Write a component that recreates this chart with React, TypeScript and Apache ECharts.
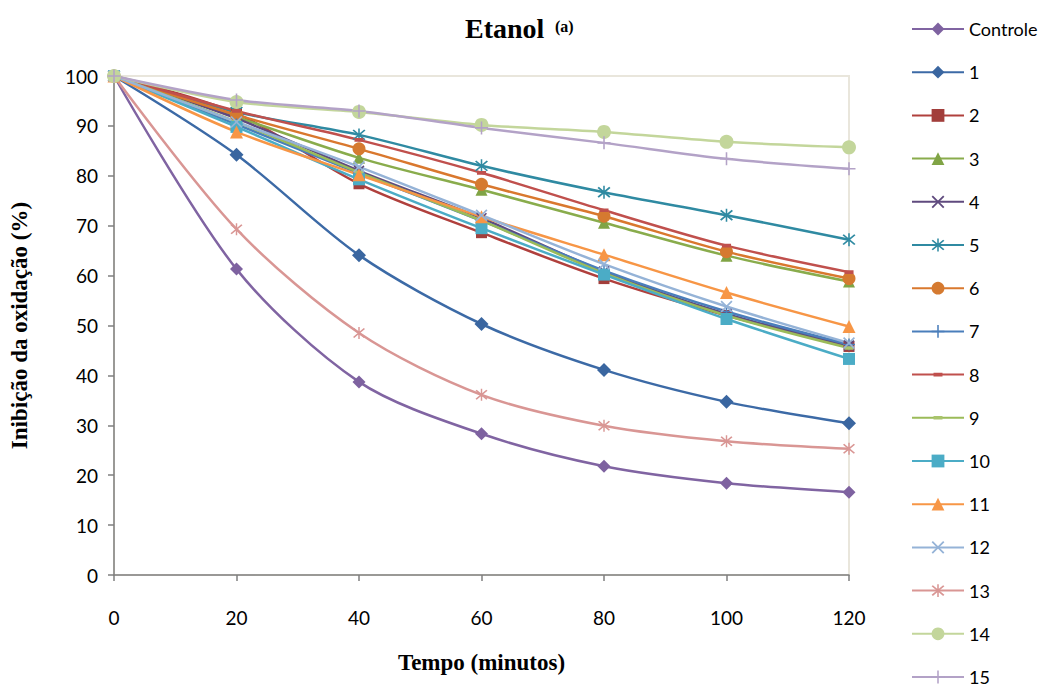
import React, { useEffect, useRef } from "react";
import * as echarts from "echarts";

const time = [0, 20, 40, 60, 80, 100, 120];
const seriesNames = ["Controle", "1", "2", "3", "4", "5", "6", "7", "8", "9", "10", "11", "12", "13", "14", "15"];
const controle = [100, 61.3, 38.7, 28.3, 21.8, 18.4, 16.6];
const s1 = [100, 84.2, 64.1, 50.3, 41.1, 34.7, 30.4];
const s2 = [100, 92.5, 78.4, 68.6, 59.4, 52.0, 45.8];
const s3 = [100, 91.8, 83.6, 77.2, 70.6, 64.0, 58.8];
const s4 = [100, 91.5, 81.0, 71.5, 60.8, 52.3, 46.0];
const s5 = [100, 92.8, 88.2, 82.0, 76.7, 72.1, 67.2];
const s6 = [100, 92.2, 85.4, 78.3, 71.9, 64.8, 59.4];
const s7 = [100, 90.3, 80.5, 71.0, 61.0, 52.8, 46.2];
const s8 = [100, 93.0, 87.2, 80.6, 73.1, 66.0, 60.7];
const s9 = [100, 90.8, 80.7, 71.0, 60.5, 52.0, 45.5];
const s10 = [100, 89.8, 79.3, 69.5, 60.2, 51.3, 43.3];
const s11 = [100, 88.8, 80.2, 71.8, 64.2, 56.6, 49.8];
const s12 = [100, 90.8, 81.8, 72.1, 62.3, 53.8, 46.5];
const s13 = [100, 69.3, 48.5, 36.1, 29.9, 26.8, 25.3];
const s14 = [100, 94.8, 92.8, 90.2, 88.8, 86.8, 85.7];
const s15 = [100, 95.2, 93.0, 89.6, 86.6, 83.4, 81.4];
const allValues = [controle, s1, s2, s3, s4, s5, s6, s7, s8, s9, s10, s11, s12, s13, s14, s15];

const X_PATH = "path://M0,1 L1,0 L10,9 L9,10 Z M9,0 L10,1 L1,10 L0,9 Z";
const STAR_PATH = "path://M0,1 L1,0 L10,9 L9,10 Z M9,0 L10,1 L1,10 L0,9 Z M4.4,-1 L5.6,-1 L5.6,11 L4.4,11 Z";
const PLUS_PATH = "path://M4.4,0 L5.6,0 L5.6,10 L4.4,10 Z M0,4.4 L10,4.4 L10,5.6 L0,5.6 Z";
// small dash centred in a 10x10 box (tiny corner points only pad the box)
const DASH_PATH = "path://M0,0 L0.01,0 L0,0.01 Z M10,10 L9.99,10 L10,9.99 Z M1.5,3.6 L8.5,3.6 L8.5,6.4 L1.5,6.4 Z";

const styles: { color: string; marker: string; symbol: any; size: any }[] = [
  { color: "#8064A2", marker: "#7E62A0", symbol: "diamond", size: 13 },
  { color: "#3C6AA6", marker: "#3A66A0", symbol: "diamond", size: 14 },
  { color: "#B0403D", marker: "#A23E3B", symbol: "rect", size: 11 },
  { color: "#89AC4C", marker: "#80A445", symbol: "triangle", size: 12 },
  { color: "#5F4A7E", marker: "#5F4A7E", symbol: X_PATH, size: 11 },
  { color: "#2F8AA2", marker: "#2F8AA2", symbol: STAR_PATH, size: 13 },
  { color: "#D9782E", marker: "#D57A30", symbol: "circle", size: 13 },
  { color: "#4A7EBB", marker: "#4A7EBB", symbol: PLUS_PATH, size: 12 },
  { color: "#C0504D", marker: "#C0504D", symbol: DASH_PATH, size: 13 },
  { color: "#9BBB59", marker: "#A9C46C", symbol: DASH_PATH, size: 13 },
  { color: "#4BACC6", marker: "#4BACC6", symbol: "rect", size: 12 },
  { color: "#F79646", marker: "#F79646", symbol: "triangle", size: 13 },
  { color: "#95B3D7", marker: "#95B3D7", symbol: X_PATH, size: 12 },
  { color: "#D99694", marker: "#D99694", symbol: STAR_PATH, size: 12 },
  { color: "#C3D69B", marker: "#C3D69B", symbol: "circle", size: 14 },
  { color: "#B3A2C7", marker: "#B3A2C7", symbol: PLUS_PATH, size: 13 },
];

export default function App() {
  const ref = useRef<HTMLDivElement>(null);
  useEffect(() => {
    if (!ref.current) return;
    const chart = echarts.init(ref.current, undefined, { renderer: "svg" });
    const series = seriesNames.map((name, i) => ({
      name,
      type: "line",
      data: time.map((t, j) => [t, allValues[i][j]]),
      smooth: 0.3,
      symbol: styles[i].symbol,
      symbolSize: styles[i].size,
      showAllSymbol: true,
      lineStyle: { color: styles[i].color, width: 2.5 },
      itemStyle: { color: styles[i].marker, borderWidth: 0 },
      emphasis: { disabled: true },
    }));
    const legendBase = {
      orient: "vertical",
      left: 911,
      padding: 0,
      width: 134,
      height: 400,
      itemWidth: 52,
      itemHeight: 16,
      itemGap: 25.2,
      textStyle: { fontFamily: "Lato", fontSize: 18, color: "#000", padding: [0, 0, 0, 0] },
    };
    chart.setOption({
      animation: false,
      backgroundColor: "#ffffff",
      grid: {
        left: 114,
        right: 196,
        top: 76,
        bottom: 116,
        show: true,
        borderColor: "#E9E6DC",
        borderWidth: 2,
        backgroundColor: "transparent",
      },
      graphic: [
        {
          type: "text",
          left: 465,
          top: 14,
          style: { text: "Etanol", font: "bold 28px 'Liberation Serif', serif", fill: "#000" },
        },
        {
          type: "text",
          left: 555,
          top: 18,
          style: { text: "(a)", font: "bold 16px 'Liberation Serif', serif", fill: "#000" },
        },
      ],
      legend: [
        { ...legendBase, top: 20, data: seriesNames.slice(0, 8) },
        { ...legendBase, top: 20 + 8 * 43.2, data: seriesNames.slice(8) },
      ],
      xAxis: {
        type: "value",
        min: 0,
        max: 120,
        interval: 20,
        name: "Tempo (minutos)",
        nameLocation: "middle",
        nameGap: 76,
        nameTextStyle: { fontFamily: "'Liberation Serif', serif", fontWeight: "bold", fontSize: 23, color: "#000" },
        axisLine: { lineStyle: { color: "#7F7F7F", width: 1.5 } },
        axisTick: { show: true, inside: false, length: 6, lineStyle: { color: "#7F7F7F", width: 1.5 } },
        axisLabel: { fontFamily: "Lato", fontSize: 19, color: "#000", margin: 33 },
        splitLine: { show: false },
      },
      yAxis: {
        type: "value",
        min: 0,
        max: 100,
        interval: 10,
        name: "Inibição da oxidação (%)",
        nameLocation: "middle",
        nameGap: 83,
        nameRotate: 90,
        nameTextStyle: { fontFamily: "'Liberation Serif', serif", fontWeight: "bold", fontSize: 23, color: "#000" },
        axisLine: { show: true, lineStyle: { color: "#7F7F7F", width: 1.5 } },
        axisTick: { show: true, inside: false, length: 6, lineStyle: { color: "#7F7F7F", width: 1.5 } },
        axisLabel: { fontFamily: "Lato", fontSize: 19, color: "#000", margin: 16 },
        splitLine: { show: false },
      },
      series,
    });
    return () => chart.dispose();
  }, []);
  return <div ref={ref} style={{ position: "fixed", left: 0, top: 0, width: 1045, height: 691 }} />;
}
